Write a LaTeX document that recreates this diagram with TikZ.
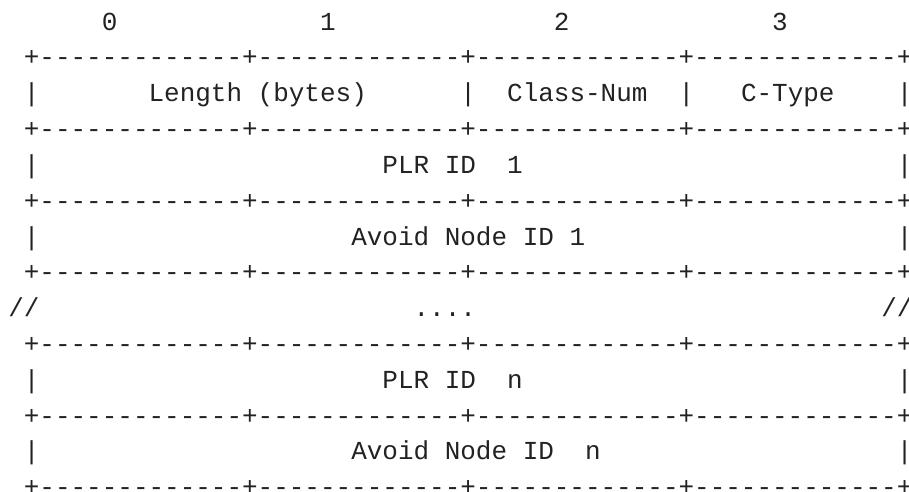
\documentclass[tikz,border=0pt]{standalone}
\usepackage{fontspec}
\setmonofont{Liberation Mono}
\definecolor{ink}{HTML}{222222}
\tikzset{
  txt/.style={anchor=base west, inner sep=0pt, outer sep=0pt, text=ink,
    font=\ttfamily\fontsize{25.98}{30}\selectfont}
}
\newcommand\tx[4]{\node[txt] (#1) at ({8.3+15.59*#2},{460.8-35.8*#3}) {#4};}
\newcommand\dashrow{+-------------+-------------+-------------+-------------+}
\begin{document}
\begin{tikzpicture}[x=1pt,y=1pt]
\useasboundingbox (0,0) rectangle (909,491);
\clip (0,0) rectangle (909,491);
% header
\tx{h0}{6}{0}{0}
\tx{h1}{20}{0}{1}
\tx{h2}{35}{0}{2}
\tx{h3}{49}{0}{3}
% row lines
\tx{d1}{1}{1}{\dashrow}
\tx{b2a}{1}{2}{|}
\tx{len}{9}{2}{Length (bytes)}
\tx{b2b}{29}{2}{|}
\tx{cls}{32}{2}{Class-Num}
\tx{b2c}{43}{2}{|}
\tx{ctp}{47}{2}{C-Type}
\tx{b2d}{57}{2}{|}
\tx{d3}{1}{3}{\dashrow}
\tx{b4a}{1}{4}{|}
\tx{plr1}{24}{4}{PLR ID~~1}
\tx{b4b}{57}{4}{|}
\tx{d5}{1}{5}{\dashrow}
\tx{b6a}{1}{6}{|}
\tx{av1}{22}{6}{Avoid Node ID 1}
\tx{b6b}{57}{6}{|}
\tx{d7}{1}{7}{\dashrow}
\tx{s8a}{0}{8}{//}
\tx{dots}{26}{8}{....}
\tx{s8b}{56}{8}{//}
\tx{d9}{1}{9}{\dashrow}
\tx{b10a}{1}{10}{|}
\tx{plrn}{24}{10}{PLR ID~~n}
\tx{b10b}{57}{10}{|}
\tx{d11}{1}{11}{\dashrow}
\tx{b12a}{1}{12}{|}
\tx{avn}{22}{12}{Avoid Node ID~~n}
\tx{b12b}{57}{12}{|}
\tx{d13}{1}{13}{\dashrow}
\end{tikzpicture}
\end{document}
